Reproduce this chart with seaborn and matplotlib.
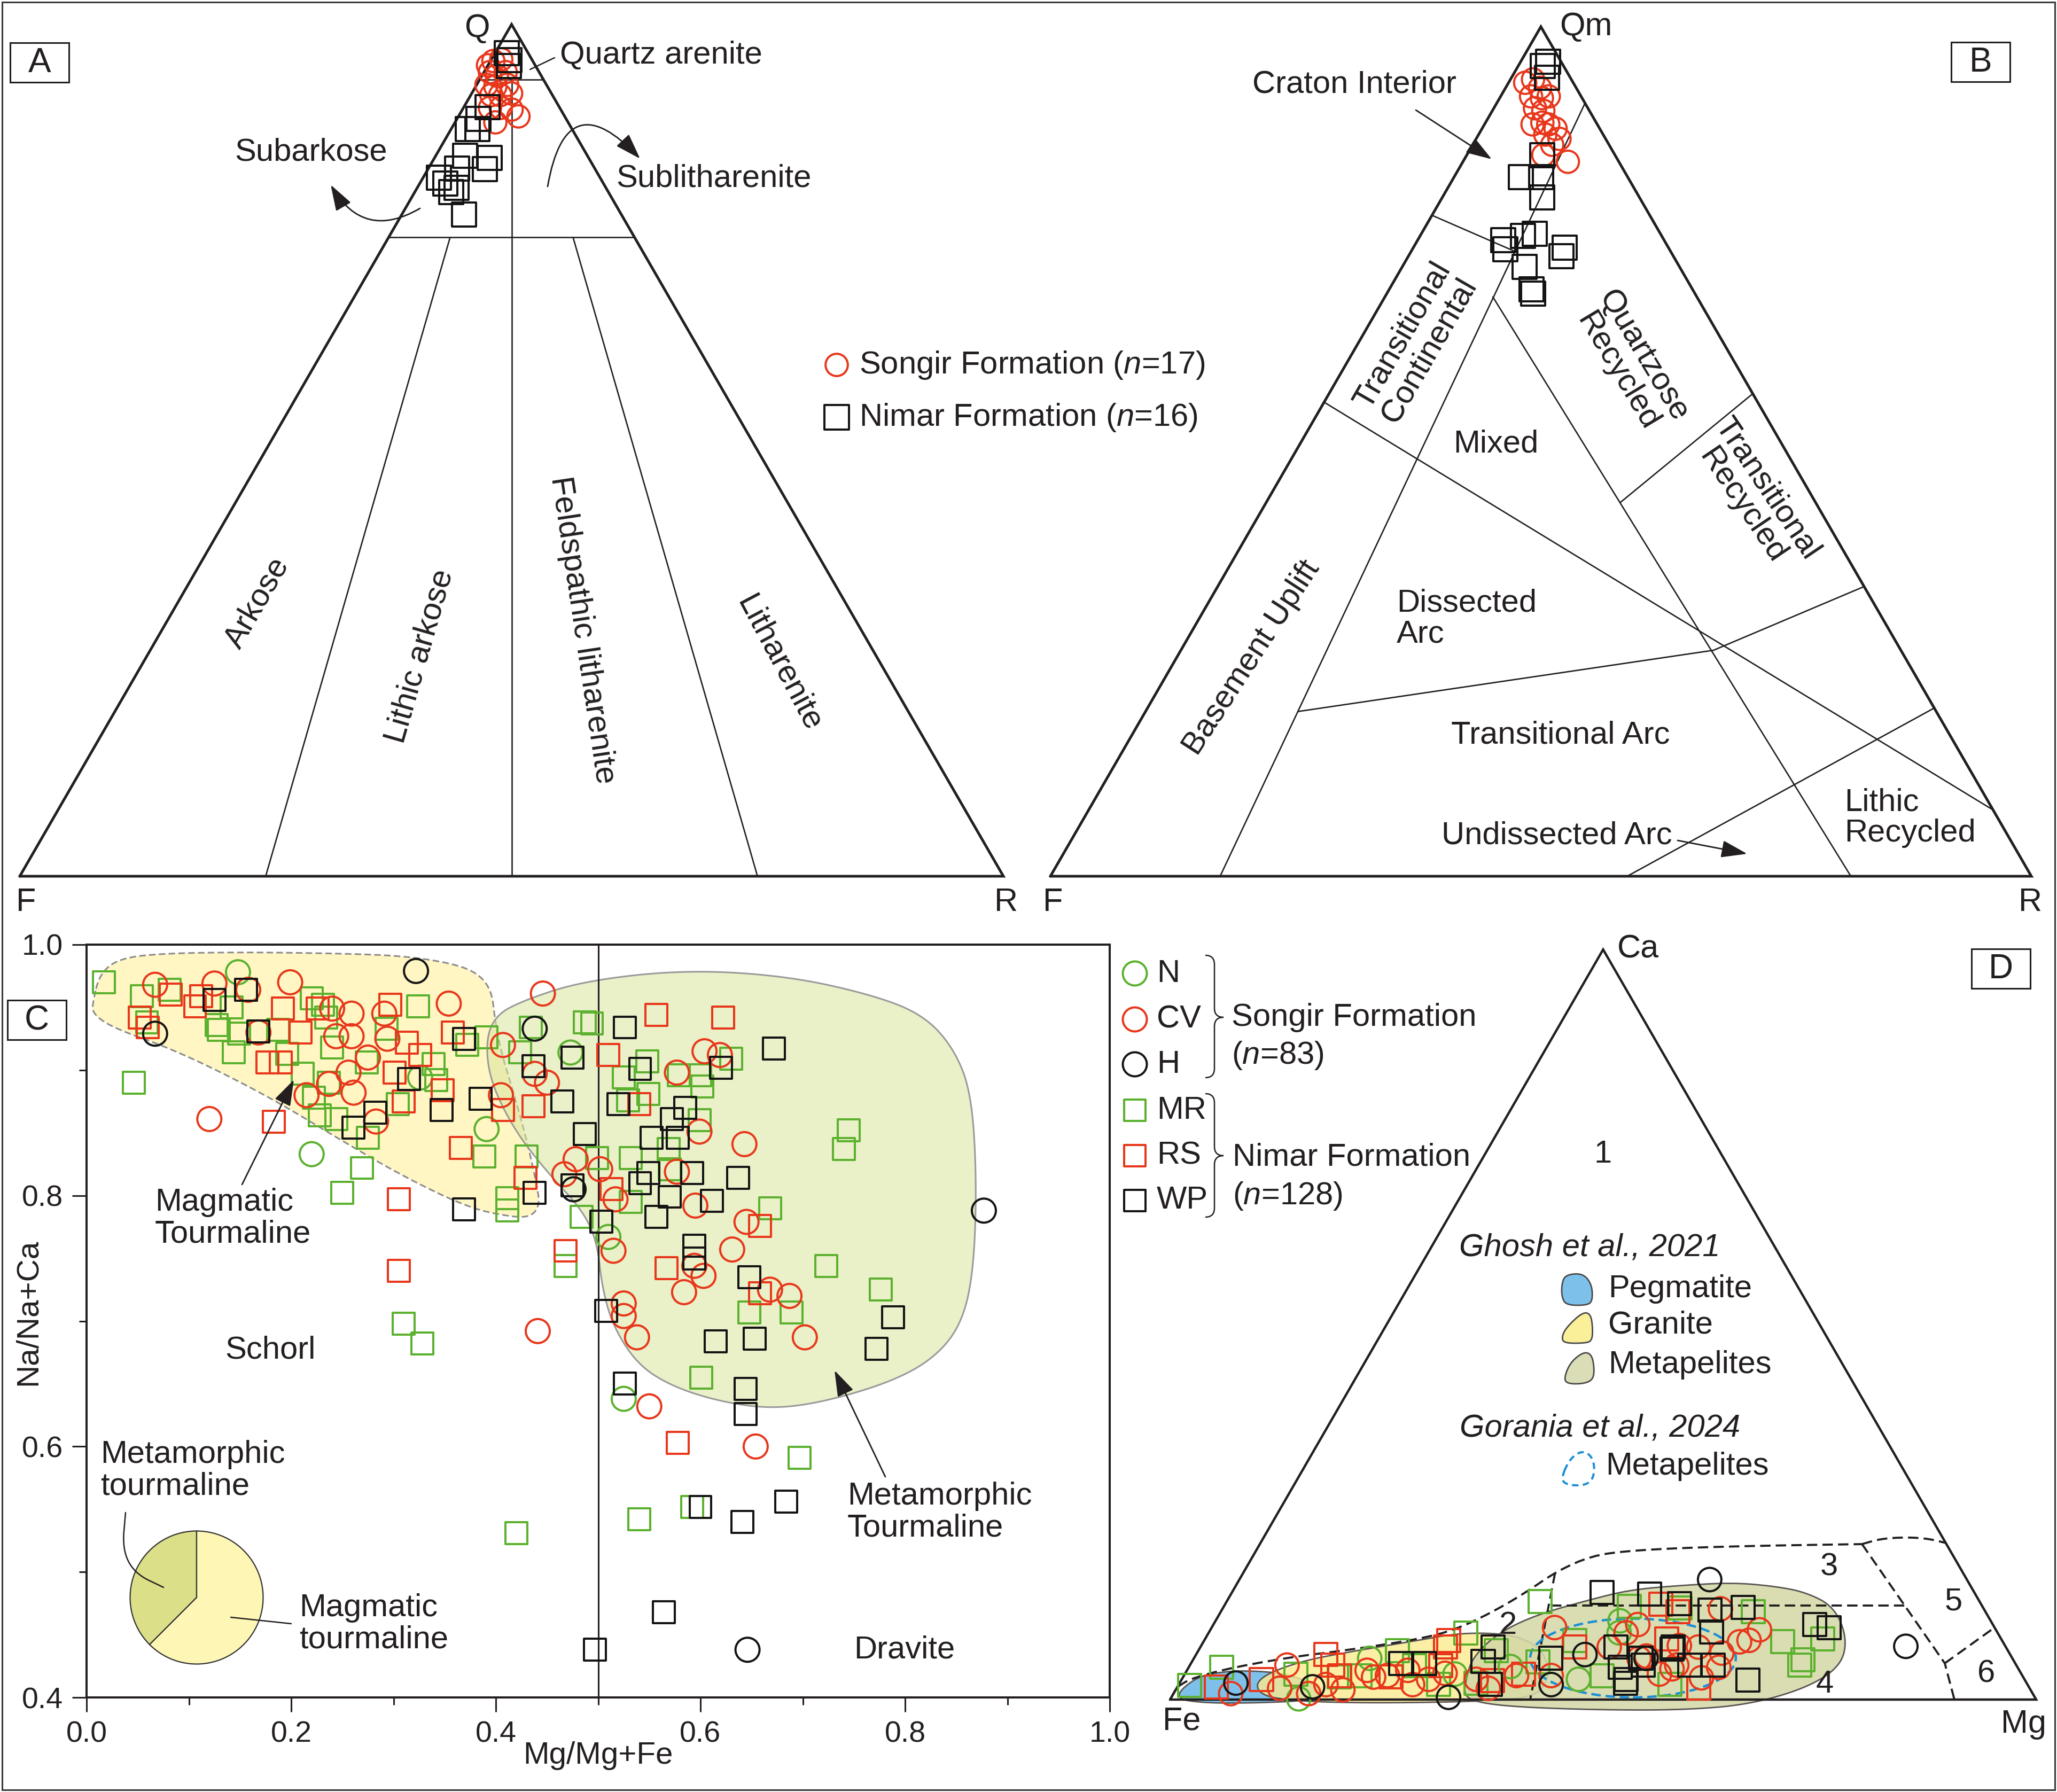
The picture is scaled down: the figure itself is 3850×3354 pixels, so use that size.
import numpy as np
import matplotlib
matplotlib.use("Agg")
import matplotlib.pyplot as plt
import matplotlib.colors as mcolors
import seaborn as sns
from matplotlib.patches import Polygon, Rectangle, FancyArrowPatch, Ellipse, PathPatch
from matplotlib.path import Path

# ============================ DATA ============================
# ---- Panel A : Folk Q-F-R (percent) ----
A_SONGIR_Q = [95.2, 95.7, 95.9, 94.4, 94.0, 94.4, 92.9, 92.7, 92.9, 91.7, 91.7, 91.9, 90.2, 90.2, 90.0, 88.5, 89.2]
A_SONGIR_F = [4.8, 4.0, 3.1, 5.0, 4.5, 3.4, 6.1, 5.3, 4.0, 6.2, 5.3, 4.1, 7.1, 6.0, 5.0, 7.4, 4.7]
A_SONGIR_R = [0.0, 0.3, 1.0, 0.6, 1.5, 2.2, 1.0, 2.0, 3.1, 2.1, 3.0, 4.0, 2.7, 3.8, 5.0, 4.1, 6.1]
A_NIMAR_Q = [96.6, 95.8, 95.1, 90.3, 88.9, 87.7, 87.7, 84.6, 84.3, 83.0, 83.1, 82.0, 81.3, 80.3, 80.8, 77.7]
A_NIMAR_F = [2.2, 2.3, 2.7, 7.3, 8.9, 9.6, 10.6, 12.4, 10.1, 11.2, 14.0, 16.4, 16.1, 16.0, 15.2, 16.0]
A_NIMAR_R = [1.2, 1.9, 2.2, 2.4, 2.2, 2.7, 1.7, 3.0, 5.6, 5.8, 2.9, 1.6, 2.6, 3.7, 4.0, 6.3]

# ---- Panel B : Dickinson Qm-F-Lt (percent) ----
B_SONGIR_QM = [93.4, 93.8, 92.8, 91.8, 91.6, 91.8, 90.4, 90.1, 88.5, 88.7, 88.5, 88.0, 87.3, 86.8, 86.1, 84.9, 84.1]
B_SONGIR_F = [4.9, 3.9, 3.7, 5.1, 4.1, 3.3, 5.4, 4.7, 6.6, 5.5, 5.0, 4.5, 5.9, 4.7, 5.8, 7.3, 5.2]
B_SONGIR_LT = [1.7, 2.3, 3.5, 3.1, 4.3, 4.9, 4.2, 5.2, 4.9, 5.8, 6.5, 7.5, 6.8, 8.5, 8.1, 7.8, 10.7]
B_NIMAR_QM = [95.4, 95.9, 94.0, 84.9, 82.3, 82.3, 79.9, 74.9, 73.8, 75.4, 75.6, 74.0, 73.0, 71.7, 69.1, 68.6]
B_NIMAR_F = [2.1, 1.3, 2.4, 7.4, 10.9, 8.8, 9.9, 16.4, 16.7, 14.1, 12.8, 10.6, 11.4, 15.8, 16.4, 16.5]
B_NIMAR_LT = [2.5, 2.8, 3.6, 7.7, 6.8, 8.9, 10.2, 8.7, 9.5, 10.5, 11.6, 15.4, 15.6, 12.5, 14.5, 14.9]

# ---- Panel C : (Mg/Mg+Fe , Na/Na+Ca) ----
C_N = [(0.148, 0.978), (0.220, 0.833), (0.326, 0.894), (0.391, 0.853), (0.473, 0.914), (0.525, 0.638), (0.510, 0.767)]
C_CV = [(0.067, 0.968), (0.125, 0.969), (0.158, 0.964), (0.199, 0.970), (0.168, 0.930), (0.240, 0.949),
        (0.259, 0.945), (0.291, 0.945), (0.354, 0.953), (0.244, 0.927), (0.259, 0.927), (0.294, 0.925),
        (0.275, 0.910), (0.407, 0.920), (0.446, 0.961), (0.438, 0.897), (0.450, 0.890), (0.256, 0.898),
        (0.237, 0.889), (0.261, 0.882), (0.215, 0.880), (0.283, 0.859), (0.405, 0.880), (0.120, 0.861),
        (0.467, 0.817), (0.478, 0.829), (0.604, 0.915), (0.619, 0.912), (0.577, 0.898), (0.599, 0.851),
        (0.643, 0.841), (0.502, 0.821), (0.577, 0.819), (0.517, 0.797), (0.595, 0.792), (0.645, 0.779),
        (0.515, 0.756), (0.594, 0.744), (0.603, 0.736), (0.631, 0.757), (0.668, 0.725), (0.687, 0.720),
        (0.584, 0.723), (0.525, 0.714), (0.525, 0.704), (0.538, 0.687), (0.702, 0.687), (0.550, 0.632),
        (0.441, 0.692), (0.654, 0.600)]
C_H = [(0.322, 0.979), (0.067, 0.929), (0.438, 0.933), (0.476, 0.805), (0.877, 0.788), (0.646, 0.438)]
C_MR = [(0.017, 0.970), (0.054, 0.959), (0.081, 0.964), (0.059, 0.938), (0.142, 0.950), (0.127, 0.936),
        (0.129, 0.932), (0.149, 0.929), (0.187, 0.932), (0.220, 0.957), (0.231, 0.952), (0.234, 0.942),
        (0.324, 0.951), (0.293, 0.933), (0.240, 0.918), (0.144, 0.914), (0.196, 0.913), (0.274, 0.906),
        (0.372, 0.920), (0.391, 0.926), (0.434, 0.934), (0.424, 0.914), (0.487, 0.938), (0.339, 0.905),
        (0.342, 0.892), (0.211, 0.897), (0.237, 0.890), (0.222, 0.878), (0.228, 0.864), (0.244, 0.861),
        (0.275, 0.846), (0.304, 0.873), (0.046, 0.890), (0.269, 0.822), (0.250, 0.802), (0.389, 0.831),
        (0.430, 0.831), (0.411, 0.798), (0.411, 0.788), (0.468, 0.744), (0.484, 0.783), (0.494, 0.937),
        (0.630, 0.909), (0.548, 0.907), (0.525, 0.894), (0.579, 0.896), (0.600, 0.896), (0.602, 0.887),
        (0.549, 0.881), (0.529, 0.876), (0.599, 0.860), (0.569, 0.837), (0.745, 0.852), (0.740, 0.837),
        (0.532, 0.830), (0.499, 0.830), (0.570, 0.821), (0.532, 0.795), (0.668, 0.790), (0.723, 0.744),
        (0.776, 0.725), (0.648, 0.707), (0.689, 0.707), (0.601, 0.655), (0.697, 0.591), (0.420, 0.531),
        (0.540, 0.542), (0.592, 0.552), (0.310, 0.698), (0.328, 0.682)]
C_RS = [(0.082, 0.960), (0.112, 0.959), (0.106, 0.951), (0.052, 0.942), (0.060, 0.934), (0.192, 0.949),
        (0.226, 0.949), (0.209, 0.930), (0.297, 0.952), (0.177, 0.906), (0.190, 0.906), (0.313, 0.922),
        (0.326, 0.912), (0.358, 0.930), (0.301, 0.898), (0.310, 0.875), (0.348, 0.884), (0.407, 0.868),
        (0.437, 0.871), (0.183, 0.859), (0.305, 0.797), (0.305, 0.740), (0.366, 0.838), (0.429, 0.814),
        (0.468, 0.756), (0.557, 0.944), (0.622, 0.942), (0.510, 0.912), (0.540, 0.873), (0.513, 0.805),
        (0.658, 0.776), (0.567, 0.742), (0.658, 0.722), (0.578, 0.603)]
C_WP = [(0.156, 0.964), (0.125, 0.956), (0.168, 0.931), (0.369, 0.925), (0.475, 0.910), (0.437, 0.903),
        (0.315, 0.893), (0.282, 0.866), (0.261, 0.854), (0.347, 0.868), (0.385, 0.877), (0.465, 0.875),
        (0.438, 0.802), (0.369, 0.789), (0.475, 0.808), (0.487, 0.849), (0.526, 0.934), (0.672, 0.917),
        (0.620, 0.902), (0.541, 0.901), (0.520, 0.873), (0.585, 0.870), (0.572, 0.861), (0.552, 0.846),
        (0.578, 0.846), (0.549, 0.818), (0.592, 0.818), (0.637, 0.814), (0.541, 0.810), (0.570, 0.799),
        (0.611, 0.796), (0.557, 0.783), (0.503, 0.779), (0.594, 0.760), (0.594, 0.750), (0.648, 0.735),
        (0.508, 0.708), (0.788, 0.703), (0.615, 0.684), (0.653, 0.686), (0.772, 0.678), (0.644, 0.646),
        (0.526, 0.650), (0.644, 0.626), (0.600, 0.552), (0.641, 0.540), (0.684, 0.556), (0.564, 0.468),
        (0.497, 0.438)]
C_XTICKS = [0.0, 0.2, 0.4, 0.6, 0.8, 1.0]
C_YTICKS = [0.4, 0.6, 0.8, 1.0]
PIE_LABELS = ["Metamorphic tourmaline", "Magmatic tourmaline"]
PIE_SHARE = [37.5, 62.5]

# ---- Panel D : Ca-Fe-Mg, (Ca %, Mg %); Fe = 100 - Ca - Mg ----
D_N = [(0.1, 14.8), (5.5, 20.3), (3.4, 31.2), (4.4, 37.1), (2.7, 45.8), (8.9, 47.4), (10.5, 46.7)]
D_CV = [(0.8, 6.6), (4.6, 11.2), (1.5, 11.9), (0.8, 15.6), (1.3, 19.3), (3.9, 20.8), (3.2, 23.5), (3.9, 25.5),
        (2.7, 28.5), (2.7, 34.0), (3.2, 38.4), (9.6, 39.6), (3.2, 42.4), (8.9, 48.2), (7.0, 47.2), (5.5, 51.4),
        (3.4, 54.8), (4.6, 56.2), (12.1, 57.5), (9.3, 63.4), (7.9, 62.9), (7.7, 61.9), (6.2, 60.6), (4.3, 61.2),
        (2.9, 59.9), (7.0, 57.5), (7.2, 55.2), (4.1, 55.9), (10.0, 49.0), (5.8, 52.1), (2.0, 17.0), (3.0, 22.0),
        (2.0, 27.0), (3.5, 30.0), (1.5, 36.0)]
D_H = [(2.2, 6.5), (1.7, 15.6), (0.3, 32.0), (2.0, 43.0), (6.0, 44.9), (5.5, 52.2), (16.0, 54.3), (7.1, 81.4)]
D_MR = [(1.9, 1.3), (4.3, 3.8), (3.4, 12.8), (3.2, 20.3), (6.5, 23.0), (8.9, 29.7), (2.2, 34.2), (13.1, 36.2),
        (7.9, 42.8), (12.4, 46.8), (12.2, 52.8), (3.2, 48.3), (6.5, 34.4), (11.7, 61.5), (8.1, 71.3), (7.7, 66.9),
        (5.3, 70.4), (4.6, 70.4), (2.0, 56.7), (3.0, 18.0), (4.5, 26.0), (2.0, 30.0), (5.0, 40.0)]
D_RS = [(1.7, 4.5), (2.7, 9.2), (4.6, 16.5), (3.2, 18.0), (7.9, 28.2), (3.4, 39.1), (7.0, 43.2), (8.1, 53.3),
        (7.0, 28.3), (12.7, 50.3), (11.7, 52.8), (1.5, 60.3), (3.0, 24.0), (4.5, 29.0), (2.5, 36.0), (6.0, 15.0)]
D_WP = [(4.8, 24.2), (4.8, 27.0), (7.0, 33.8), (5.1, 33.6), (5.5, 41.2), (14.3, 42.7), (14.1, 48.3), (2.7, 51.3),
        (4.6, 52.3), (7.0, 54.6), (12.8, 52.4), (11.9, 56.4), (12.3, 60.0), (10.0, 69.4), (9.6, 71.3), (2.6, 65.4),
        (5.5, 51.6), (4.3, 49.8), (2.2, 51.5), (6.7, 54.6), (4.6, 57.7), (4.6, 60.4), (2.0, 36.0), (7.0, 48.0),
        (9.0, 58.0)]

# ============================ STYLE ============================
W, H, DPI = 3850, 3354, 100
sns.set_theme(style="white")
plt.rcParams["font.family"] = ["Liberation Sans", "DejaVu Sans"]
plt.rcParams["mathtext.fontset"] = "custom"
plt.rcParams["mathtext.rm"] = "Liberation Sans"
plt.rcParams["mathtext.it"] = "Liberation Sans:italic"
plt.rcParams["mathtext.bf"] = "Liberation Sans:bold"

GREEN, RED, BLACK, INK = "#5CB12F", "#E8371B", "#141414", "#231F20"
FS = 43
MLW = 2.9
SQ3 = np.sqrt(3) / 2

fig = plt.figure(figsize=(W / DPI, H / DPI), dpi=DPI)
fig.patch.set_facecolor("white")

page = fig.add_axes([0, 0, 1, 1], zorder=50)
page.set_xlim(0, W)
page.set_ylim(H, 0)
page.axis("off")
page.patch.set_alpha(0)


def txt(x, y, s, size=FS, ha="center", va="center", **kw):
    page.text(x, y, s, fontsize=size, ha=ha, va=va, color=INK, **kw)


def arrow(p0, p1, rad=0.0, head=True, lw=2.0):
    style = "-|>,head_length=1.5,head_width=0.5" if head else "-"
    page.add_patch(FancyArrowPatch(p0, p1, arrowstyle=style, connectionstyle=f"arc3,rad={rad}",
                                   mutation_scale=20, lw=lw, color=INK, shrinkA=0, shrinkB=0))


def chaikin(pts, n=4, closed=True):
    p = np.asarray(pts, float)
    for _ in range(n):
        if closed:
            nxt = np.roll(p, -1, axis=0)
            q, r = 0.75 * p + 0.25 * nxt, 0.25 * p + 0.75 * nxt
            out = np.empty((2 * len(p), 2))
            out[0::2], out[1::2] = q, r
            p = out
        else:
            q, r = 0.75 * p[:-1] + 0.25 * p[1:], 0.25 * p[:-1] + 0.75 * p[1:]
            mid = np.empty((2 * len(q), 2))
            mid[0::2], mid[1::2] = q, r
            p = np.vstack([p[:1], mid, p[-1:]])
    return p


def tern(top, left, right):
    top, left, right = (np.asarray(v, float) for v in (top, left, right))
    s = top + left + right
    return right / s + 0.5 * top / s, SQ3 * top / s


def tern_axes(x0, ybase, wpx, hpx):
    ax = fig.add_axes([x0 / W, 1 - ybase / H, wpx / W, hpx / H])
    ax.axis("off")
    ax._lim = (0, hpx / wpx)
    return ax


def fix(ax):
    ax.set_xlim(0, 1)
    ax.set_ylim(*ax._lim)


def tri(ax, lw=3.6):
    ax.plot([0, 1, 0.5, 0], [0, 0, SQ3, 0], color=INK, lw=lw, clip_on=False,
            solid_joinstyle="miter", zorder=3)


def seg(ax, p, q, lw=1.9, **kw):
    x0, y0 = tern(*p)
    x1, y1 = tern(*q)
    ax.plot([x0, x1], [y0, y1], color=INK, lw=lw, clip_on=False, zorder=2, **kw)


def scat(ax, x, y, marker, color, s, lw=MLW, z=5):
    sns.scatterplot(x=np.asarray(x), y=np.asarray(y), ax=ax, marker=marker, s=s, color=color,
                    facecolors="none", edgecolor=color, linewidth=lw, clip_on=False, zorder=z,
                    legend=False)


def box_label(x, y, s):
    page.add_patch(Rectangle((x, y), 110, 74, fill=False, ec=INK, lw=2.2))
    txt(x + 55, y + 38, s, size=46)


def brace(x, y1, y2, ym, w, lw=1.8):
    xm = x + w * 0.5
    r = w * 0.5
    verts = [(x, y1), (xm, y1), (xm, y1 + r), (xm, ym - r), (xm, ym), (x + w, ym),
             (xm, ym), (xm, ym + r), (xm, y2 - r), (xm, y2), (x, y2)]
    codes = [Path.MOVETO, Path.CURVE3, Path.CURVE3, Path.LINETO, Path.CURVE3, Path.CURVE3,
             Path.CURVE3, Path.CURVE3, Path.LINETO, Path.CURVE3, Path.CURVE3]
    page.add_patch(PathPatch(Path(verts, codes), fill=False, ec=INK, lw=lw))


# outer frame
page.add_patch(Rectangle((4, 4), W - 8, H - 8, fill=False, ec="#3a3a3a", lw=2.2))

# ============================ PANEL A ============================
axA = tern_axes(37, 1640, 1841, 1596)
tri(axA)
seg(axA, (93.5, 6.5, 0), (93.5, 0, 6.5))
seg(axA, (93.5, 3.25, 3.25), (0, 50, 50))
seg(axA, (75, 25, 0), (75, 0, 25))
seg(axA, (75, 18.75, 6.25), (0, 75, 25))
seg(axA, (75, 6.25, 18.75), (0, 25, 75))
x, y = tern(A_SONGIR_Q, A_SONGIR_F, A_SONGIR_R)
scat(axA, x, y, "o", RED, 900)
x, y = tern(A_NIMAR_Q, A_NIMAR_F, A_NIMAR_R)
scat(axA, x, y, "s", BLACK, 1050, z=6)
fix(axA)

txt(893, 53, "Q", size=44)
txt(49, 1689, "F", size=44)
txt(1883, 1689, "R", size=44)
txt(1048, 103, "Quartz arenite", ha="left")
page.plot([1038, 992], [108, 130], color=INK, lw=1.8)
txt(582, 285, "Subarkose")
txt(1336, 334, "Sublitharenite")
arrow((786, 390), (619, 346), rad=-0.5)
arrow((1025, 349), (1198, 297), rad=-1.0)
txt(481, 1129, "Arkose", rotation=60, rotation_mode="anchor")
txt(786, 1228, "Lithic arkose", rotation=74, rotation_mode="anchor")
txt(1090, 1179, "Feldspathic litharenite", rotation=-81.5, rotation_mode="anchor")
txt(1458, 1242, "Litharenite", rotation=-62, rotation_mode="anchor")
page.scatter([1566], [683], s=900, marker="o", facecolors="none", edgecolors=RED, linewidths=MLW)
page.scatter([1566], [781], s=1050, marker="s", facecolors="none", edgecolors=BLACK, linewidths=MLW)
txt(1608, 683, r"Songir Formation ($\mathit{n}$=$\mathit{17}$)", ha="left")
txt(1608, 781, r"Nimar Formation ($\mathit{n}$=$\mathit{16}$)", ha="left")
box_label(19, 80, "A")

# ============================ PANEL B ============================
axB = tern_axes(1966, 1640, 1836, 1595)
tri(axB)
# (Qm, F, Lt)
seg(axB, (91.0, 0.0, 9.0), (0.0, 82.7, 17.3))
seg(axB, (77.8, 22.2, 0.0), (73.5, 15.8, 10.7))
seg(axB, (55.8, 44.2, 0.0), (7.8, 0.0, 92.2))
seg(axB, (68.2, 20.8, 11.0), (0.0, 18.4, 81.6))
seg(axB, (44.0, 19.9, 36.1), (56.8, 0.0, 43.2))
seg(axB, (19.4, 65.0, 15.6), (26.6, 19.1, 54.3))
seg(axB, (26.6, 19.1, 54.3), (34.1, 0.0, 65.9))
seg(axB, (0.0, 41.2, 58.8), (19.8, 0.0, 80.2))
x, y = tern(B_SONGIR_QM, B_SONGIR_F, B_SONGIR_LT)
scat(axB, x, y, "o", RED, 900)
x, y = tern(B_NIMAR_QM, B_NIMAR_F, B_NIMAR_LT)
scat(axB, x, y, "s", BLACK, 1050, z=6)
fix(axB)

txt(2968, 50, "Qm", size=44)
txt(1971, 1689, "F", size=44)
txt(3800, 1689, "R", size=44)
txt(2535, 158, "Craton Interior")
arrow((2650, 206), (2792, 298))
txt(2650, 642, "Transitional\nContinental", rotation=60, rotation_mode="anchor", linespacing=1.05)
txt(3051, 680, "Quartzose\nRecycled", rotation=-59, rotation_mode="anchor", linespacing=1.05)
txt(2800, 831, "Mixed")
txt(3284, 931, "Transitional\nRecycled", rotation=-56, rotation_mode="anchor", linespacing=1.05)
txt(2614, 1158, "Dissected\nArc", ha="left", linespacing=1.05)
txt(2343, 1231, "Basement Uplift", rotation=57, rotation_mode="anchor")
txt(2921, 1376, "Transitional Arc")
txt(2914, 1564, "Undissected Arc")
arrow((3140, 1573), (3270, 1598))
txt(3452, 1531, "Lithic\nRecycled", ha="left", linespacing=1.05)
box_label(3652, 79, "B")

# ============================ PANEL C ============================
axC = fig.add_axes([162 / W, 1 - 3177 / H, 1915 / W, 1409 / H])
YELLOW_FIELD = [(0.006, 0.954), (0.013, 0.977), (0.032, 0.989), (0.073, 0.993), (0.152, 0.994), (0.247, 0.993),
                (0.310, 0.991), (0.358, 0.985), (0.383, 0.977), (0.396, 0.963), (0.399, 0.941), (0.405, 0.915),
                (0.418, 0.880), (0.430, 0.845), (0.440, 0.809), (0.443, 0.792), (0.434, 0.783), (0.415, 0.783),
                (0.374, 0.790), (0.310, 0.815), (0.247, 0.845), (0.184, 0.876), (0.120, 0.903), (0.073, 0.920),
                (0.025, 0.934), (0.006, 0.945)]
GREEN_FIELD = [(0.399, 0.943), (0.425, 0.955), (0.485, 0.971), (0.585, 0.980), (0.685, 0.975), (0.768, 0.960),
               (0.818, 0.944), (0.848, 0.917), (0.865, 0.881), (0.870, 0.812), (0.867, 0.739), (0.855, 0.697),
               (0.828, 0.670), (0.785, 0.651), (0.718, 0.635), (0.668, 0.630), (0.618, 0.636), (0.572, 0.648),
               (0.539, 0.665), (0.515, 0.695), (0.504, 0.726), (0.499, 0.763), (0.485, 0.788), (0.452, 0.817),
               (0.419, 0.851), (0.395, 0.890), (0.390, 0.922)]
axC.add_patch(Polygon(chaikin(YELLOW_FIELD), closed=True, fc="#FFF6C4", ec="#8C8C8C", lw=2.2,
                      ls=(0, (4, 2)), zorder=1))
axC.add_patch(Polygon(chaikin(GREEN_FIELD), closed=True, fc=mcolors.to_rgba("#D9E59C", 0.55),
                      ec="#9A9A9A", lw=2.2, zorder=1.5))
axC.axvline(0.5, color=INK, lw=2.2, zorder=2)

for pts, mk, col, s in [(C_MR, "s", GREEN, 870), (C_N, "o", GREEN, 1050), (C_RS, "s", RED, 870),
                        (C_CV, "o", RED, 1050), (C_WP, "s", BLACK, 870), (C_H, "o", BLACK, 1050)]:
    xs, ys = zip(*pts)
    scat(axC, xs, ys, mk, col, s)

axC.set_xlim(0, 1)
axC.set_ylim(0.4, 1.0)
axC.set_xticks(C_XTICKS)
axC.set_xticklabels([f"{v:.1f}" for v in C_XTICKS])
axC.set_yticks(C_YTICKS)
axC.set_yticklabels([f"{v:.1f}" for v in C_YTICKS])
axC.set_xticks([0.1, 0.3, 0.5, 0.7, 0.9], minor=True)
axC.set_yticks([0.5, 0.7, 0.9], minor=True)
axC.tick_params(which="major", length=19.5, width=2.2, direction="out", labelsize=40, pad=12,
                bottom=True, left=True, colors=INK)
axC.tick_params(which="minor", length=10, width=2.2, direction="out", bottom=True, left=True, colors=INK)
for sp in axC.spines.values():
    sp.set_linewidth(2.9)
    sp.set_color(INK)
axC.set_xlabel("Mg/Mg+Fe", fontsize=42, color=INK)
axC.set_ylabel("Na/Na+Ca", fontsize=42, color=INK)
axC.xaxis.set_label_coords(0.5, -0.058)
axC.yaxis.set_label_coords(-0.043, 0.512)

txt(290, 2280, "Magmatic\nTourmaline", ha="left", linespacing=1.1)
arrow((453, 2217), (550, 2021))
txt(506, 2527, "Schorl")
txt(1586, 2830, "Metamorphic\nTourmaline", ha="left", linespacing=1.1)
arrow((1657, 2764), (1562, 2565))
txt(1598, 3088, "Dravite", ha="left")
txt(188, 2752, "Metamorphic\ntourmaline", ha="left", linespacing=1.1)
txt(560, 3039, "Magmatic\ntourmaline", ha="left", linespacing=1.1)

axP = fig.add_axes([(368 - 127) / W, 1 - (2990 + 127) / H, 254 / W, 254 / H], zorder=40)
axP.pie(PIE_SHARE, colors=["#DADF88", "#FDF6B4"], startangle=90, counterclock=True,
        wedgeprops=dict(edgecolor="#333333", linewidth=1.6))
axP.set_xlim(-1.02, 1.02)
axP.set_ylim(-1.02, 1.02)
axP.set_aspect("equal")
axP.axis("off")
lead = chaikin([(235, 2831), (229, 2900), (252, 2945), (306, 2971)], n=3, closed=False)
page.plot(lead[:, 0], lead[:, 1], color=INK, lw=1.8)
page.plot([432, 545], [3027, 3039], color=INK, lw=1.8)
box_label(14, 1872, "C")

# legend for C / D
LEG = [("N", "o", GREEN, 1822), ("CV", "o", RED, 1908), ("H", "o", BLACK, 1992),
       ("MR", "s", GREEN, 2078), ("RS", "s", RED, 2163), ("WP", "s", BLACK, 2247)]
for lab, mk, col, yy in LEG:
    page.scatter([2124], [yy], s=1050 if mk == "o" else 870, marker=mk, facecolors="none",
                 edgecolors=col, linewidths=MLW)
    txt(2165, yy, lab, ha="left")
brace(2256, 1788, 2017, 1904, 34)
brace(2256, 2047, 2278, 2163, 34)
txt(2305, 1904, "Songir Formation", ha="left")
txt(2305, 1975, r"($\mathit{n}$=$\mathit{83}$)", ha="left")
txt(2307, 2166, "Nimar Formation", ha="left")
txt(2307, 2238, r"($\mathit{n}$=$\mathit{128}$)", ha="left")

# ============================ PANEL D ============================
axD = tern_axes(2190, 3181, 1621, 1404)
PEG = [(0.003, 0.002), (0.031, 0.027), (0.068, 0.033), (0.099, 0.033), (0.133, 0.030), (0.164, 0.019),
       (0.176, 0.009), (0.164, -0.001), (0.099, -0.004), (0.037, -0.004)]
GRAN = [(0.101, 0.025), (0.149, 0.044), (0.212, 0.056), (0.290, 0.069), (0.329, 0.076), (0.369, 0.077),
        (0.400, 0.073), (0.424, 0.062), (0.436, 0.044), (0.436, 0.019), (0.416, 0.001), (0.329, -0.003),
        (0.212, -0.004), (0.133, -0.001), (0.101, 0.007)]
OLIVE = [(0.339, 0.004), (0.342, 0.025), (0.349, 0.048), (0.376, 0.075), (0.420, 0.097), (0.487, 0.116),
         (0.533, 0.127), (0.592, 0.132), (0.650, 0.135), (0.697, 0.131), (0.734, 0.124), (0.767, 0.107),
         (0.782, 0.070), (0.774, 0.038), (0.734, 0.013), (0.667, -0.006), (0.592, -0.012), (0.500, -0.012),
         (0.407, -0.009), (0.358, -0.004)]
EDGE = "#5B5553"
axD.add_patch(Polygon(chaikin(PEG, 3), closed=True, fc="#7DC1EA", ec=EDGE, lw=2.0, zorder=1, clip_on=False))
axD.add_patch(Polygon(chaikin(GRAN, 3), closed=True, fc=mcolors.to_rgba("#FBEA8F", 0.8), ec=EDGE, lw=2.0,
                      zorder=1.2, clip_on=False))
axD.add_patch(Polygon(chaikin(OLIVE, 3), closed=True, fc=mcolors.to_rgba("#D5D9A8", 0.88), ec=EDGE, lw=2.0,
                      zorder=1.4, clip_on=False))
axD.add_patch(Ellipse((0.5345, 0.048), 0.2374, 0.091, fill=False, ec="#1C8FD5", lw=3.2,
                      ls=(0, (4, 2)), zorder=4, clip_on=False))
tri(axD, lw=3.2)
ENV = [(0.0, 0.0), (0.0105, 0.0191), (0.0543, 0.0333), (0.1326, 0.0481), (0.2116, 0.058), (0.2899, 0.0703),
       (0.3294, 0.0808), (0.3689, 0.0993), (0.4084, 0.1221), (0.4473, 0.1487), (0.4867, 0.1659),
       (0.5262, 0.1715), (0.5922, 0.1752), (0.6848, 0.1777), (0.7989, 0.1795)]
BUMP = [(0.7989, 0.1795), (0.8205, 0.1857), (0.8507, 0.1875), (0.876, 0.1857), (0.8957, 0.1808)]
dash = dict(color=INK, lw=2.8, ls=(0, (5, 2.5)), clip_on=False, zorder=3)
for line, sm in [(ENV, 2), (BUMP, 2), ([(0.7989, 0.1795), (0.8945, 0.0419), (0.9056, 0.0)], 0),
                 ([(0.8945, 0.0419), (0.9513, 0.0827)], 0), ([(0.4445, 0.146), (0.4158, 0.0)], 0),
                 ([(0.4399, 0.1086), (0.8481, 0.1086)], 0)]:
    c = chaikin(line, sm, closed=False) if sm else np.asarray(line)
    axD.plot(c[:, 0], c[:, 1], **dash)

for pts, mk, col, s in [(D_MR, "s", GREEN, 960), (D_RS, "s", RED, 960), (D_N, "o", GREEN, 1000),
                        (D_CV, "o", RED, 1000), (D_WP, "s", BLACK, 960), (D_H, "o", BLACK, 1000)]:
    ca, mg = (np.asarray(v, float) for v in zip(*pts))
    x, y = tern(ca, 100 - ca - mg, mg)
    scat(axD, x, y, mk, col, s)
fix(axD)

txt(3066, 1777, "Ca", size=44)
txt(2212, 3222, "Fe", size=44)
txt(3788, 3227, "Mg", size=44)
for s, xx, yy in [("1", 3000, 2160), ("2", 2823, 3043), ("3", 3423, 2933), ("4", 3415, 3153),
                  ("5", 3656, 2998), ("6", 3718, 3133)]:
    txt(xx, yy, s)
txt(2975, 2335, "Ghosh et al., 2021", style="italic")
txt(2995, 2673, "Gorania et al., 2024", style="italic")
for name, yy in [("Pegmatite", 2413), ("Granite", 2480), ("Metapelites", 2555)]:
    txt(3010, yy, name, ha="left")
txt(3005, 2745, "Metapelites", ha="left")
LEG_SHAPES = {
    "peg": ((2952, 2413), [(-22, -27), (10, -30), (27, -10), (29, 20), (20, 30), (-20, 30), (-29, 15), (-29, -10)],
            "#7DC1EA", "solid"),
    "gra": ((2952, 2484), [(-29, 18), (-20, 0), (10, -28), (25, -25), (29, 0), (28, 25), (15, 30), (-25, 30)],
            "#FBF09A", "solid"),
    "met": ((2954, 2560), [(-27, 20), (-15, -10), (10, -30), (25, -25), (30, 0), (28, 22), (10, 30), (-20, 30)],
            "#DADDB5", "solid"),
    "gor": ((2952, 2747), [(-31, 22), (-14, -17), (11, -33), (31, -17), (32, 17), (17, 33), (-17, 33)],
            "none", "dash"),
}
for key, (cen, shp, fc, st) in LEG_SHAPES.items():
    pts = chaikin(np.asarray(shp, float) + np.asarray(cen), 3)
    if st == "dash":
        page.add_patch(Polygon(pts, closed=True, fill=False, ec="#1C8FD5", lw=2.9, ls=(0, (3, 2))))
    else:
        page.add_patch(Polygon(pts, closed=True, fc=fc, ec="#4a4a4a", lw=2.0))
box_label(3690, 1776, "D")

fig.savefig("out.png", dpi=DPI)
